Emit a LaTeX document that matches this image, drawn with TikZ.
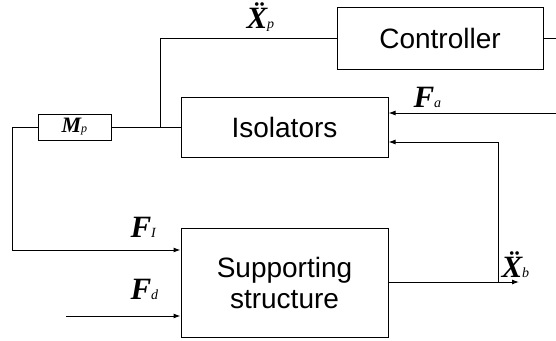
\documentclass[tikz,border=0pt]{standalone}
\usepackage{fontspec}
\setmainfont{Liberation Serif}
\newfontfamily\blockfont{Liberation Sans}
\usetikzlibrary{arrows.meta}

% bold italic symbol with a small italic subscript
\newcommand{\symb}[3][]{{\fontsize{31}{31}\selectfont\bfseries\itshape#1{#2}}%
  {\fontsize{14}{14}\selectfont\mdseries\itshape\raisebox{-0.5pt}{#3}}}

\begin{document}
\begin{tikzpicture}[x=1pt,y=-1pt,
  line width=1pt,
  block/.style={draw,line width=1pt,rectangle,inner sep=0pt,align=center,
    font=\blockfont\fontsize{28}{31}\selectfont},
  wire/.style={line width=1pt},
  flow/.style={line width=1pt,-{Latex[length=7pt,width=5pt]}},
  sig/.style={inner sep=0pt,anchor=base west}]
\useasboundingbox (0,0) rectangle (556,340);

% blocks
\node[block,minimum width=206pt,minimum height=62pt] (ctrl) at (440,38) {Controller};
\node[block,minimum width=207pt,minimum height=60pt] (iso) at (284.5,127) {Isolators};
\node[block,minimum width=207pt,minimum height=109pt] (sup) at (284.5,282.5) {Supporting\\structure};
\node[draw,line width=1pt,minimum width=73pt,minimum height=26pt,inner sep=0pt] (mp) at (74.5,127) {};

% free ends and junctions
\coordinate (ctrlout) at (556,38);
\coordinate (j1) at (160,127);
\coordinate (lft) at (12,127);
\coordinate (fain) at (556,113);
\coordinate (j2) at (498,282);
\coordinate (xbout) at (519,282);
\coordinate (fdin) at (66,316);

% connectors
\draw[wire] (ctrl.east) -- (ctrlout);
\draw[wire] (ctrl.west) -| (j1);
\draw[wire] (iso.west) -- (mp.east);
\draw[flow] (mp.west) -- (lft) |- (sup.west |- 0,250);
\draw[flow] (fain) -- (iso.east |- fain);
\draw[flow] (j2) |- (iso.east |- 0,142);
\draw[flow] (sup.east |- j2) -- (xbout);
\draw[flow] (fdin) -- (sup.west |- fdin);

% signal labels
\node[sig] (lxp) at (246,28) {\symb[\"]{X}{p}};
\node[sig] (lfa) at (413,107) {\symb{F}{a}};
\node[sig] (lfi) at (130,237) {\symb{F}{I}};
\node[sig] (lfd) at (130,299) {\symb{F}{d}};
\node[sig] (lxb) at (501,277) {\symb[\"]{X}{b}};
\node[sig] (lmp) at (61,132) {{\fontsize{22}{22}\selectfont\bfseries\itshape M}{\fontsize{12}{12}\selectfont\itshape p}};
\end{tikzpicture}
\end{document}
